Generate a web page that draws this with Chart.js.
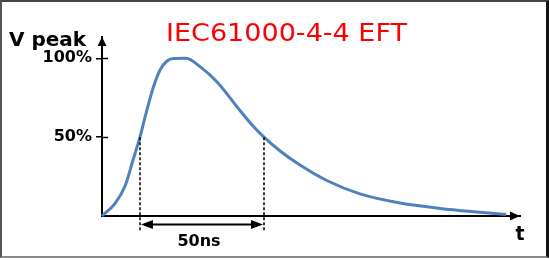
<!DOCTYPE html>
<html>
<head>
<meta charset="utf-8">
<script src="https://cdn.jsdelivr.net/npm/chart.js@4"></script>
<style>
  html, body { margin: 0; padding: 0; background: #fff; }
  #wrap { position: relative; width: 549px; height: 260px; }
  #frame {
    position: absolute; left: 0; top: 0;
    width: 544px; height: 254px;
    border-left: 2px solid #555; border-top: 2px solid #444;
    border-right: 3px solid #111; border-bottom: 2px solid #888;
    pointer-events: none;
  }
</style>
</head>
<body>
<div id="wrap">
  <canvas id="pulse" width="549" height="260"></canvas>
  <div id="frame"></div>
</div>
<script>
// time in ns, voltage in % of peak
const timeNs = [0, 5.2, 9.3, 12.5, 15.3, 17.7, 20.6, 23.4, 26.2, 29.0, 33.9, 39.5, 46.4, 55.6, 60.5, 65.3, 71.8, 79.8, 90.6, 104.0, 120.2, 136.3, 152.4, 162.9];
const voltagePct = [0, 7.9, 19.0, 35.5, 50, 64.7, 81.2, 92.6, 98.3, 99.9, 100, 94.7, 85.0, 66.9, 57.7, 50, 41.2, 32.3, 22.5, 14.0, 8.2, 4.8, 2.4, 1.0];
const yTicks = [50, 100];
const halfPoints = [15.3, 65.3];   // 50% crossings, the 50ns width
const titleText = "IEC61000-4-4 EFT";
const yLabel = "V peak";
const xLabel = "t";
const widthLabel = "50ns";

const points = timeNs.map((t, i) => ({ x: t, y: voltagePct[i] }));

function arrowHead(ctx, x, y, dir, len, half) {
  ctx.beginPath();
  if (dir === "up") {
    ctx.moveTo(x, y); ctx.lineTo(x - half, y + len); ctx.lineTo(x + half, y + len);
  } else if (dir === "right") {
    ctx.moveTo(x, y); ctx.lineTo(x - len, y - half); ctx.lineTo(x - len, y + half);
  } else {
    ctx.moveTo(x, y); ctx.lineTo(x + len, y - half); ctx.lineTo(x + len, y + half);
  }
  ctx.closePath();
  ctx.fill();
}

const decorations = {
  id: "decorations",
  afterDraw(chart) {
    const ctx = chart.ctx;
    const xs = chart.scales.x, ys = chart.scales.y;
    const area = chart.chartArea;
    ctx.save();
    ctx.fillStyle = "#000";
    ctx.strokeStyle = "#000";

    // axis arrowheads
    arrowHead(ctx, area.left, area.top, "up", 9, 4.5);
    arrowHead(ctx, area.right, area.bottom, "right", 10, 4.5);

    // inner half of the tick marks
    ctx.lineWidth = 1.5;
    yTicks.forEach(v => {
      const py = Math.round(ys.getPixelForValue(v)) + 0.5;
      ctx.beginPath();
      ctx.moveTo(area.left, py);
      ctx.lineTo(area.left + 6, py);
      ctx.stroke();
    });

    // dashed drop lines at the 50% points
    ctx.lineWidth = 1.5;
    ctx.setLineDash([3, 2]);
    halfPoints.forEach(t => {
      const px = Math.round(xs.getPixelForValue(t));
      ctx.beginPath();
      ctx.moveTo(px, ys.getPixelForValue(50));
      ctx.lineTo(px, area.bottom + 16);
      ctx.stroke();
    });
    ctx.setLineDash([]);

    // double arrow for the width
    const x1 = xs.getPixelForValue(halfPoints[0]);
    const x2 = xs.getPixelForValue(halfPoints[1]);
    const ay = area.bottom + 8.5;
    ctx.lineWidth = 2;
    ctx.beginPath();
    ctx.moveTo(x1 + 8, ay);
    ctx.lineTo(x2 - 8, ay);
    ctx.stroke();
    arrowHead(ctx, x1 + 1, ay, "left", 12, 4.5);
    arrowHead(ctx, x2 - 1, ay, "right", 12, 4.5);

    // texts
    ctx.textAlign = "center";
    ctx.textBaseline = "alphabetic";
    ctx.font = "bold 16px 'DejaVu Sans'";
    ctx.fillText(widthLabel, (x1 + x2) / 2 - 3, 246);
    ctx.font = "bold 19px 'DejaVu Sans'";
    ctx.fillText(xLabel, area.right, 240);
    ctx.textAlign = "left";
    ctx.font = "bold 20px 'DejaVu Sans'";
    ctx.fillText(yLabel, 9, 46);

    // title, stretched to the width seen in the picture
    ctx.fillStyle = "#ff0000";
    ctx.font = "25px 'DejaVu Sans'";
    const w = ctx.measureText(titleText).width;
    const sx = 241 / w;
    ctx.translate(286.5, 41);
    ctx.scale(sx, 1);
    ctx.textAlign = "center";
    ctx.fillText(titleText, 0, 0);
    ctx.restore();
  }
};

new Chart(document.getElementById("pulse"), {
  type: "line",
  data: {
    datasets: [{
      data: points,
      borderColor: "#4f81bd",
      borderWidth: 3,
      pointRadius: 0,
      tension: 0.4,
      cubicInterpolationMode: "monotone",
      clip: 4
    }]
  },
  options: {
    responsive: false,
    animation: false,
    layout: { padding: { left: 2, top: 37, right: 29, bottom: 44 } },
    plugins: { legend: { display: false }, tooltip: { enabled: false } },
    scales: {
      x: {
        type: "linear",
        min: 0,
        max: 168.5,
        afterFit: s => { s.height = 0; },
        ticks: { display: false },
        grid: { display: false },
        border: { display: true, color: "#000", width: 2 }
      },
      y: {
        min: 0,
        max: 113.5,
        afterFit: s => { s.width = 100; },
        afterBuildTicks: s => { s.ticks = yTicks.map(v => ({ value: v })); },
        ticks: {
          padding: 4,
          color: "#000",
          font: { family: "DejaVu Sans", size: 16, weight: "bold" },
          callback: v => v + "%"
        },
        grid: { display: true, drawOnChartArea: false, tickLength: 6, color: "#000", lineWidth: 1.5 },
        border: { display: true, color: "#000", width: 2 }
      }
    }
  },
  plugins: [decorations]
});
</script>
</body>
</html>
